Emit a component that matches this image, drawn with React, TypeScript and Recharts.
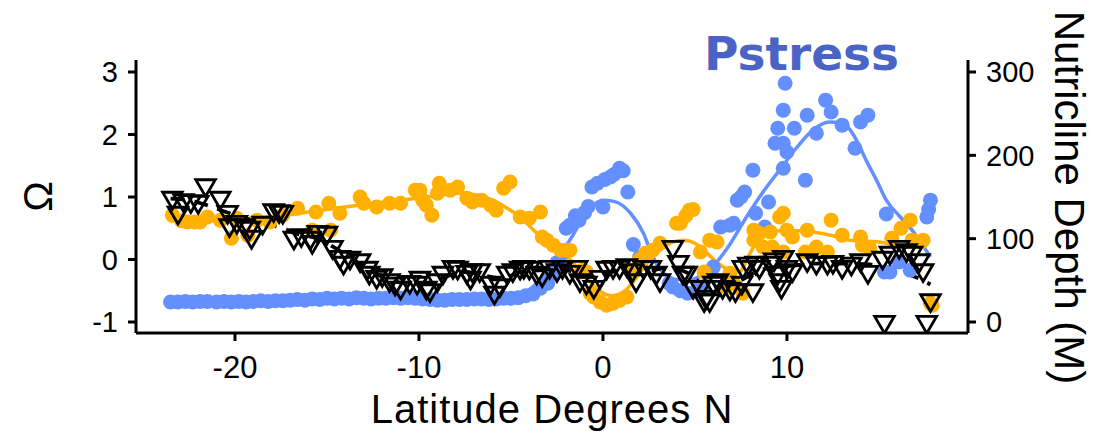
import React from 'react';
import { ComposedChart, Scatter, Line, XAxis, YAxis } from 'recharts';

// ---------- data ----------
const latTicks = [-20, -10, 0, 10];
const omegaTicks = [-1, 0, 1, 2, 3];
const depthTicks = [0, 100, 200, 300];

// Pstress (blue) points: latitude, Omega
const pstressLat = [
  -23.5, -23.1, -22.7, -22.3, -21.9, -21.5, -21.0, -20.6, -20.2, -19.8, -19.4, -19.0, -18.6, -18.2,
  -17.8, -17.4, -17.0, -16.6, -16.2, -15.8, -15.4, -15.0, -14.6, -14.2, -13.8, -13.4, -13.0, -12.6,
  -12.2, -11.8, -11.4, -11.0, -10.6, -10.2, -9.8, -9.4, -9.0, -8.6, -8.2, -7.8, -7.4, -7.0, -6.6,
  -6.2, -5.8, -5.4, -5.0, -4.6, -4.2, -3.8, -3.4, -3.0, -2.7, -2.5, -2.2, -2.0, -1.8, -1.5, -1.3,
  -1.0, -0.8, -0.6, -0.3, 0.0, 0.1, 0.4, 0.6, 0.9, 1.1, 1.35, 1.65, 2.0, 3.6, 3.8, 4.2, 4.6, 5.1,
  5.4, 5.6, 6.0, 6.4, 6.9, 7.1, 7.3, 7.5, 7.7, 8.15, 8.3, 8.8, 9.0, 9.35, 9.5, 9.8, 9.8, 9.8, 9.9,
  10.0, 10.4, 11.0, 11.1, 11.6, 12.1, 12.4, 13.0, 13.7, 14.0, 14.4, 15.3, 15.4, 15.6, 16.1, 16.7,
  17.6, 17.7, 17.8,
];
const pstressOmega = [
  -0.68, -0.68, -0.67, -0.68, -0.67, -0.67, -0.68, -0.67, -0.68, -0.67, -0.68, -0.67, -0.66, -0.67,
  -0.66, -0.66, -0.65, -0.64, -0.65, -0.63, -0.64, -0.62, -0.63, -0.62, -0.63, -0.61, -0.62, -0.63,
  -0.62, -0.62, -0.61, -0.62, -0.61, -0.62, -0.63, -0.64, -0.65, -0.65, -0.64, -0.64, -0.64, -0.63, -0.63,
  -0.64, -0.63, -0.62, -0.62, -0.61, -0.58, -0.55, -0.46, -0.38, -0.2, -0.05, 0.1, 0.5, 0.55, 0.7, 0.63,
  0.75, 0.85, 1.16, 1.22, 0.84, 1.28, 1.32, 1.36, 1.46, 1.42, 1.08, 0.24, 0.04, -0.38, -0.44, -0.5, -0.54, -0.49,
  -0.44, -0.22, -0.12, 0.52, 0.55, 0.58, 0.95, 1.0, 1.08, 1.43, 0.74, 0.52, 0.92, 1.86, 2.1, 2.39, 1.86, 1.46, 2.82,
  1.72, 2.1, 1.27, 2.31, 2.02, 2.55, 2.36, 2.15, 1.78, 2.2, 2.31, -0.2, 0.73, -0.2, -0.04, -0.17,
  0.68, 0.8, 0.95,
];

// Pstress smooth fit
const pstressFitLat = [
  -23.5, -20, -16, -12, -8, -6, -5, -4.2, -3.5, -2.7, -1.8, -0.9, 0.0, 0.6, 1.5, 2.2, 2.7, 3.3, 4.0,
  4.8, 5.5, 6.0, 6.8, 7.8, 8.7, 9.6, 10.5, 11.4, 12.3, 12.9, 13.3, 13.8, 14.3, 14.9, 15.4, 16.1, 16.8,
  17.3, 17.8,
];
const pstressFitOmega = [
  -0.68, -0.67, -0.65, -0.63, -0.63, -0.62, -0.6, -0.52, -0.35, -0.06, 0.31, 0.74, 0.95, 0.93, 0.74,
  0.42, 0.05, -0.22, -0.32, -0.32, -0.22, -0.1, 0.2, 0.68, 1.08, 1.43, 1.78, 2.07, 2.2, 2.18, 2.12, 1.9,
  1.59, 1.25, 0.95, 0.7, 0.47, 0.26, 0.04,
];

// Orange series points
const orangeLat = [
  -23.4, -22.9, -22.6, -22.2, -21.9, -21.5, -20.8, -20.2, -19.9, -19.3, -18.8, -18.1, -17.4, -16.6,
  -15.8, -15.6, -14.9, -14.8, -14.3, -13.2, -13.0, -12.3, -11.6, -11.0, -10.2, -9.95, -9.8, -9.6, -9.3,
  -9.0, -8.9, -8.3, -7.9, -7.4, -7.1, -6.6, -6.1, -5.8, -5.4, -5.05, -4.5, -4.0, -3.4, -3.3, -3.05,
  -2.7, -2.3, -2.0, -1.8, -1.2, -1.1, -0.9, -0.7, -0.5, -0.15, 0.2, 0.55, 0.9, 1.3, 1.6, 2.0, 2.3, 2.7,
  3.1, 4.0, 4.2, 4.5, 4.7, 4.9, 5.3, 5.5, 5.8, 6.2, 6.7, 6.9, 7.1, 7.6, 8.2, 8.2, 8.5, 8.7, 9.1, 9.2,
  9.6, 9.8, 9.8, 10.0, 10.3, 11.0, 11.1, 11.6, 12.2, 12.4, 13.0, 14.0, 14.1, 14.5, 15.7, 16.2, 16.7,
  16.8, 17.4, 17.8, 17.9,
];
const orangeOmega = [
  0.71, 0.62, 0.6, 0.6, 0.6, 0.68, 0.63, 0.34, 0.66, 0.39, 0.63, 0.6, 0.71, 0.82,
  0.47, 0.76, 0.9, 0.47, 0.74, 1.0, 0.9, 0.84, 0.9, 0.9, 1.11, 1.11, 0.95, 0.87, 0.71,
  1.06, 1.22, 1.11, 1.16, 0.98, 0.92, 0.95, 0.87, 0.79, 1.14, 1.24, 0.68, 0.66, 0.76, 0.36, 0.31,
  0.23, 0.15, 0.15, 0.15, -0.2, -0.17, -0.2, -0.54, -0.6, -0.68, -0.73, -0.7, -0.65, -0.6, -0.17, 0.0, 0.1, 0.15,
  0.26, 0.58, 0.58, 0.7, 0.79, 0.8, 0.12, -0.2, 0.31, 0.28, -0.44, -0.22, -0.38, -0.54, 0.47, 0.31, 0.42, 0.2, 0.44, 0.2,
  0.68, 0.74, 0.12, 0.47, 0.36, 0.12, 0.47, 0.2, 0.12, 0.63, 0.39, 0.36, 0.23, 0.18, 0.34, 0.5, 0.63,
  0.31, 0.31, -0.7, -0.73,
];

// Orange smooth fit
const orangeFitLat = [
  -23.5, -21, -19, -17, -15, -13, -11, -9, -8, -7, -6, -5.2, -4.5, -3.6, -2.7, -1.8, -1.0, -0.2, 0.5,
  1.2, 1.8, 2.4, 3.1, 3.8, 4.4, 5.0, 5.6, 6.2, 6.9, 7.4, 7.9, 8.4, 8.9, 10.0, 11.4, 12.5, 13.3, 15.0,
  16.5, 17.5,
];
const orangeFitOmega = [
  0.62, 0.63, 0.66, 0.72, 0.8, 0.88, 0.95, 1.02, 1.06, 1.04, 0.95, 0.82, 0.68, 0.42, 0.2, 0.0, -0.25,
  -0.5, -0.58, -0.5, -0.3, -0.06, 0.15, 0.28, 0.31, 0.26, 0.12, -0.05, -0.17, -0.2, 0.05, 0.3, 0.42,
  0.47, 0.44, 0.38, 0.31, 0.28, 0.2, 0.2,
];

// Nutricline depth (triangles), metres
const depthLat = [
  -23.4, -23.1, -22.8, -22.4, -22.0, -21.6, -20.8, -20.4, -20.3, -19.9, -19.5, -19.2, -19.1, -18.5,
  -17.9, -17.6, -17.4, -16.8, -16.4, -15.9, -15.8, -15.5, -15.0, -14.7, -14.3, -14.1, -13.75, -13.2,
  -12.8, -12.7, -12.3, -12.0, -11.6, -11.3, -11.0, -10.5, -10.1, -9.95, -9.6, -9.4, -9.0, -8.7, -8.15,
  -7.9, -7.4, -7.2, -7.1, -6.7, -6.1, -5.9, -5.6, -5.2, -4.9, -4.5, -4.3, -4.0, -3.6, -3.3, -2.9,
  -2.5, -2.2, -1.8, -1.4, -1.25, -0.9, -0.5, -0.16, 0.2, 0.55, 0.9, 1.3, 1.6, 1.8, 2.2, 2.6, 2.9, 3.1,
  3.8, 4.1, 4.35, 4.55, 4.9, 5.3, 5.5, 5.6, 5.8, 6.0, 6.25, 6.5, 6.9, 7.2, 7.55, 7.6, 7.9, 8.15, 8.3,
  8.5, 9.1, 9.3, 9.5, 9.6, 9.7, 9.8, 10.0, 10.3, 11.1, 11.6, 12.2, 12.5, 13.0, 13.5, 14.0, 14.4, 15.2,
  15.3, 15.6, 16.1, 16.5, 16.8, 17.2, 17.4, 17.6, 17.8,
];
const depthM = [
  149, 131, 146, 145, 144, 164, 149, 132, 116, 120, 116, 113, 102, 119,
  134, 133, 132, 101, 104, 101, 96, 108, 107, 90, 78, 71, 77, 74,
  65, 59, 54, 56, 50, 46, 41, 48, 47, 53, 41, 38, 50, 59, 66,
  65, 60, 53, 62, 62, 47, 35, 44, 59, 62, 65, 66, 65, 59, 56, 66,
  62, 66, 60, 66, 50, 47, 42, 54, 65, 66, 66, 68, 62, 50, 66, 66, 59, 50,
  90, 72, 59, 59, 42, 42, 26, 30, 26, 47, 50, 42, 40, 38, 47, 66, 70, 38, 71,
  66, 71, 75, 59, 50, 42, 78, 66, 62, 74, 71, 71, 72, 66, 70, 74, 60, 77,
  0, 83, 90, 86, 83, 74, 62, 0, 26,
];

// Nutricline depth smooth fit (dashed)
const depthFitLat = [
  -23.5, -22.5, -21.5, -20.5, -19.5, -18.5, -17.5, -16.5, -15.5, -14.5, -13.5, -12.5, -11.5, -10.5,
  -9.5, -8.5, -7.5, -6.5, -5.5, -4.5, -3.5, -2.5, -1.5, -0.5, 0.5, 1.5, 2.5, 3.5, 4.5, 5.5, 6.5, 7.5,
  8.5, 9.5, 10.5, 11.5, 12.5, 13.5, 14.5, 15.5, 16.5, 17.2, 17.8,
];
const depthFitM = [
  148, 146, 140, 132, 125, 119, 113, 105, 100, 88, 74, 60, 50, 46,
  47, 55, 60, 56, 52, 60, 62, 63, 60, 54, 60, 63, 62, 65, 60, 45, 42, 50,
  62, 66, 68, 70, 70, 70, 69, 64, 58, 52, 45,
];

// ---------- helpers ----------
const zip = (xs: number[], ys: number[]) => xs.map((x, i) => ({ x, y: ys[i] }));

const bluePts = zip(pstressLat, pstressOmega);
const blueFit = zip(pstressFitLat, pstressFitOmega);
const orangePts = zip(orangeLat, orangeOmega);
const orangeFit = zip(orangeFitLat, orangeFitOmega);
const depthPts = zip(depthLat, depthM);
const depthFit = zip(depthFitLat, depthFitM);

const BLUE = '#648FFF';
const ORANGE = '#FFB000';
const FONT = '"Liberation Sans", Arial, Helvetica, sans-serif';

const dot = (color: string) => (p: any) => {
  if (p.cx == null || p.cy == null) return <g />;
  return <circle cx={p.cx} cy={p.cy} r={7.5} fill={color} stroke="none" />;
};

const tri = (p: any) => {
  if (p.cx == null || p.cy == null) return <g />;
  const { cx, cy } = p;
  return (
    <polygon
      points={`${cx - 9.8},${cy - 5.6} ${cx + 9.8},${cy - 5.6} ${cx},${cy + 11.2}`}
      fill="none"
      stroke="#000"
      strokeWidth={2.8}
    />
  );
};

const axisStyle = { stroke: '#000', strokeWidth: 3 };

const xTitle = (props: any) => {
  const vb = props.viewBox || { x: 136, y: 333, width: 832, height: 101 };
  return (
    <text x={vb.x + vb.width / 2} y={vb.y + 90} textAnchor="middle" fontSize={40} letterSpacing={1}
      fontFamily={FONT} fill="#000">
      Latitude Degrees N
    </text>
  );
};

const leftTitle = (props: any) => {
  const vb = props.viewBox || { x: 0, y: 60, width: 136, height: 273 };
  const x = vb.x + 52;
  const y = vb.y + vb.height / 2;
  return (
    <text x={x} y={y} textAnchor="middle" fontSize={41} fontFamily={FONT} fill="#000"
      transform={`rotate(-90, ${x}, ${y})`}>
      Ω
    </text>
  );
};

const rightTitle = (props: any) => {
  const vb = props.viewBox || { x: 968, y: 60, width: 131, height: 273 };
  const x = vb.x + 87;
  const y = vb.y + vb.height / 2 + 1;
  return (
    <text x={x} y={y} textAnchor="middle" fontSize={42} fontFamily={FONT} fill="#000"
      transform={`rotate(90, ${x}, ${y})`}>
      Nutricline Depth (M)
    </text>
  );
};

export default function App() {
  return (
    <div style={{ position: 'relative', width: 1099, height: 434, fontFamily: FONT, background: '#fff' }}>
      <style>{`body{margin:0;background:#fff}`}</style>
      <ComposedChart width={1099} height={434} margin={{ top: 60, right: 0, bottom: 0, left: 0 }}>
        <XAxis
          dataKey="x"
          type="number"
          domain={[-25.38, 19.84]}
          ticks={latTicks}
          interval={0}
          allowDataOverflow
          height={101}
          tickSize={8}
          tickMargin={15}
          axisLine={axisStyle}
          tickLine={axisStyle}
          tick={{ fontSize: 31, fill: '#000', fontFamily: FONT }}
          label={xTitle}
        />
        <YAxis
          yAxisId="L"
          orientation="left"
          type="number"
          width={136}
          domain={[-1.176, 3.192]}
          ticks={omegaTicks}
          interval={0}
          allowDataOverflow
          tickSize={8}
          tickMargin={10}
          axisLine={axisStyle}
          tickLine={axisStyle}
          tick={{ fontSize: 29, fill: '#000', fontFamily: FONT }}
          label={leftTitle}
        />
        <YAxis
          yAxisId="R"
          orientation="right"
          type="number"
          width={131}
          domain={[-13.2, 314.4]}
          ticks={depthTicks}
          interval={0}
          allowDataOverflow
          tickSize={8}
          tickMargin={10}
          axisLine={axisStyle}
          tickLine={axisStyle}
          tick={{ fontSize: 29, fill: '#000', fontFamily: FONT }}
          label={rightTitle}
        />
        <Scatter data={bluePts} dataKey="y" yAxisId="L" shape={dot(BLUE)} isAnimationActive={false} />
        <Line data={blueFit} dataKey="y" yAxisId="L" type="monotone" stroke={BLUE} strokeWidth={3.5}
          dot={false} activeDot={false} isAnimationActive={false} />
        <Scatter data={orangePts} dataKey="y" yAxisId="L" shape={dot(ORANGE)} isAnimationActive={false} />
        <Line data={orangeFit} dataKey="y" yAxisId="L" type="monotone" stroke={ORANGE} strokeWidth={3.5}
          dot={false} activeDot={false} isAnimationActive={false} />
        <Scatter data={depthPts} dataKey="y" yAxisId="R" shape={tri} isAnimationActive={false} />
        <Line data={depthFit} dataKey="y" yAxisId="R" type="monotone" stroke="#000" strokeWidth={3.8}
          strokeDasharray="14 10" dot={false} activeDot={false} isAnimationActive={false} />
      </ComposedChart>
      <svg width={1099} height={434} style={{ position: 'absolute', left: 0, top: 0, pointerEvents: 'none' }}>
        <text x={704} y={70} fontSize={47} fontWeight="bold" fontFamily='"DejaVu Sans", Verdana, sans-serif'
          fill="#4A64C6">
          Pstress
        </text>
      </svg>
    </div>
  );
}
